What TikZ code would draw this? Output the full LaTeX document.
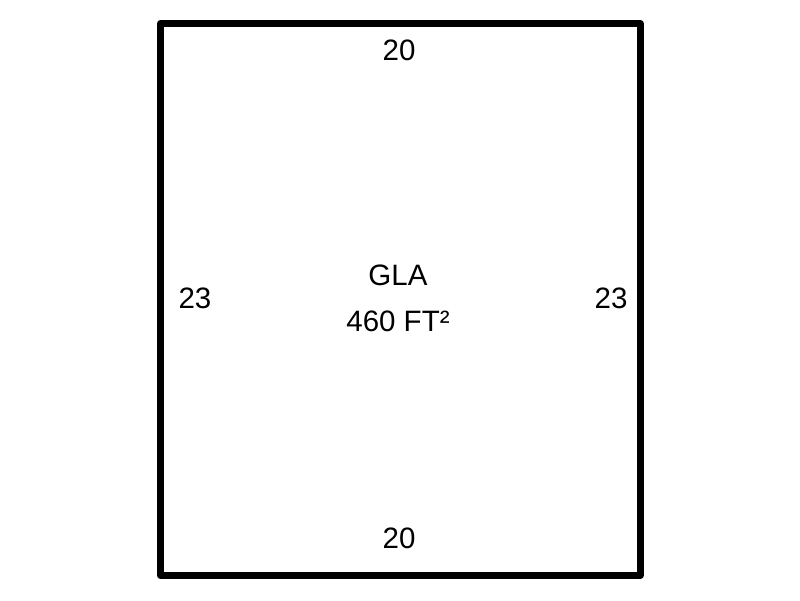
\documentclass[tikz,border=0pt]{standalone}
\usepackage{fontspec}
\setmainfont{Liberation Sans}
\usepackage{tikz}
\usetikzlibrary{positioning}

\begin{document}
\begin{tikzpicture}[x=1pt, y=-1pt, dim/.style={font=\fontsize{29.5}{34}\selectfont, inner sep=0pt}]
        \useasboundingbox (0, 0) rectangle (800, 600);
        \draw[line width = 7pt, line join = round] (160.5, 23.5) rectangle (640, 575.5);

        \node[dim] (top) at (399, 50) {20};
        \node[dim] (bottom) at (399, 538) {20};
        \node[dim] (left) at (195, 298) {23};
        \node[dim] (right) at (611, 298) {23};

        \node[dim] (room) at (398, 275) {GLA};
        \node[dim] (area) [below = 25.5pt of room] {460 FT²};
      \end{tikzpicture}
\end{document}
